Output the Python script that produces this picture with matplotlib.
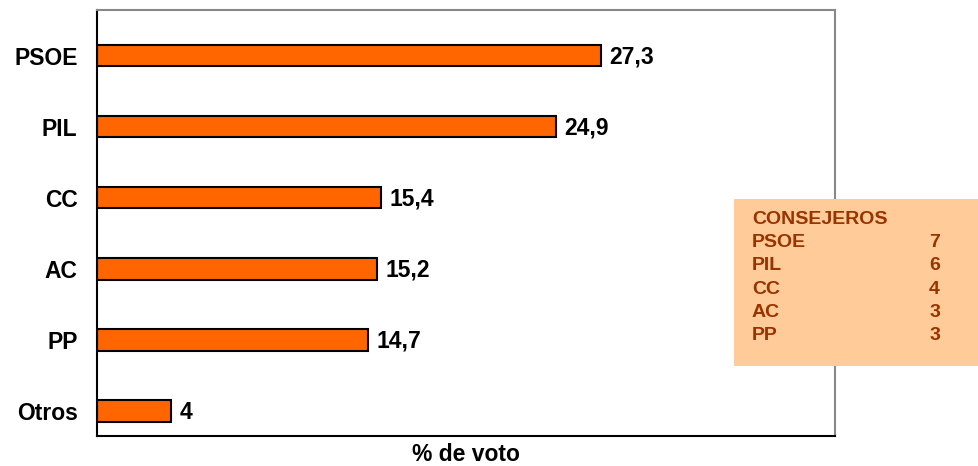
import matplotlib
matplotlib.use("Agg")
import matplotlib.pyplot as plt
from matplotlib.patches import Rectangle

categories = ["PSOE", "PIL", "CC", "AC", "PP", "Otros"]
values = [27.3, 24.9, 15.4, 15.2, 14.7, 4]
value_labels = ["27,3", "24,9", "15,4", "15,2", "14,7", "4"]
box_title = "CONSEJEROS"
box_parties = ["PSOE", "PIL", "CC", "AC", "PP"]
box_seats = [7, 6, 4, 3, 3]

plt.rcParams['font.family'] = ['Liberation Sans', 'DejaVu Sans']

W, H = 979, 466
fig = plt.figure(figsize=(W / 100, H / 100), dpi=100)
ax = fig.add_axes([97 / W, 1 - 436 / H, (835 - 97) / W, (436 - 10) / H])

y = list(range(len(categories)))
ax.barh(y, values, height=0.3, color="#FF6600", edgecolor="black", linewidth=1.5)
ax.set_xlim(0, 40)
ax.set_ylim(5.35, -0.64)
ax.set_yticks(y)
ax.set_yticklabels(categories, fontsize=16.5, fontweight="bold")
ax.tick_params(axis="y", length=0, pad=14)
ax.set_xticks([])

for yi, v, lab in zip(y, values, value_labels):
    ax.annotate(lab, (v, yi), xytext=(6, -1), textcoords="offset points",
                ha="left", va="center", fontsize=16.5, fontweight="bold")

ax.set_xlabel("% de voto", fontsize=16.5, fontweight="bold", labelpad=5)

for side in ["left", "bottom"]:
    ax.spines[side].set_color("black")
    ax.spines[side].set_linewidth(1.5)
for side in ["top", "right"]:
    ax.spines[side].set_color("#888888")
    ax.spines[side].set_linewidth(1.5)

# info box
bx0, by0, bx1, by1 = 734, 199, 979, 366
fig.patches.append(Rectangle((bx0 / W, 1 - by1 / H), (bx1 - bx0) / W, (by1 - by0) / H,
                             transform=fig.transFigure, facecolor="#FFCC99",
                             edgecolor="none", zorder=5))
tc = "#993300"
fig.text(752 / W, 1 - 219 / H, box_title, ha="left", va="center", fontsize=14,
         fontweight="bold", color=tc, zorder=6)
for i, (p, s) in enumerate(zip(box_parties, box_seats)):
    yy = 1 - (242.5 + i * 23.3) / H
    fig.text(752 / W, yy, p, ha="left", va="center", fontsize=14,
             fontweight="bold", color=tc, zorder=6)
    fig.text(940 / W, yy, str(s), ha="right", va="center", fontsize=14,
             fontweight="bold", color=tc, zorder=6)

fig.savefig("out.png", dpi=100)
